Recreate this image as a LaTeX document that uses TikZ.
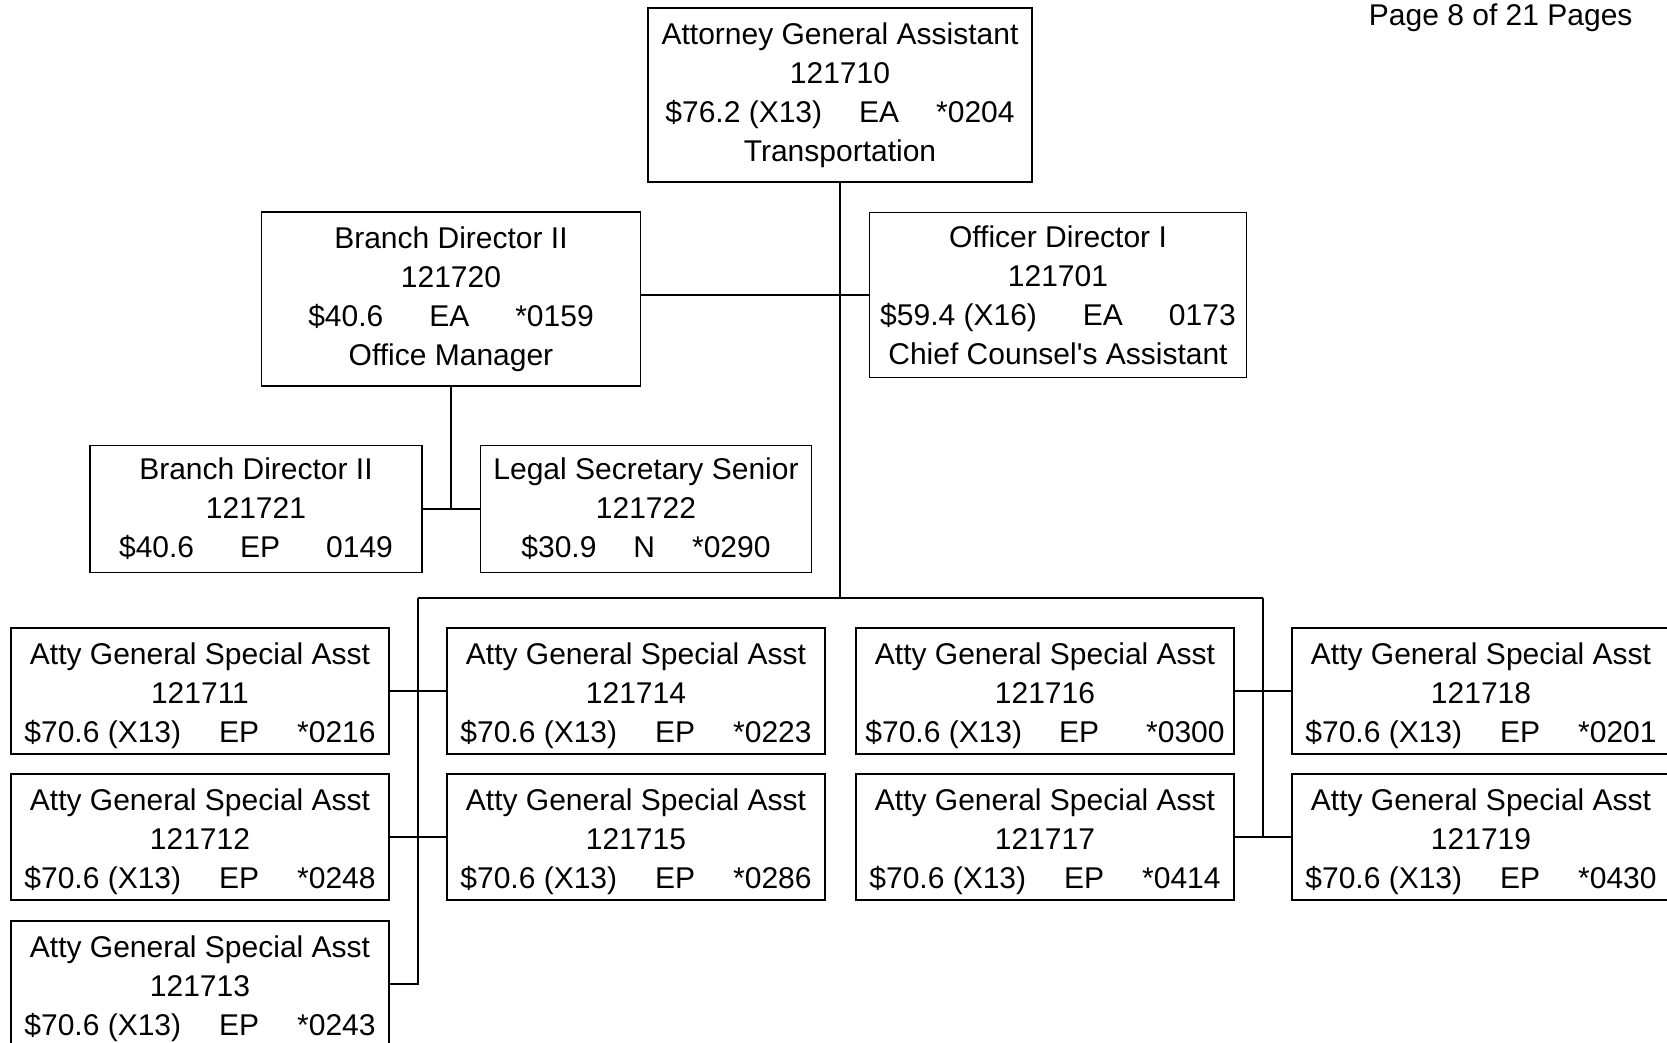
\documentclass[tikz,border=0pt]{standalone}
\usepackage{fontspec}
\setmainfont{Liberation Sans}
\usepackage{tikz}
\tikzstyle{post}=[rectangle, draw=black, line width=1.8pt, inner sep=0pt, align=center, minimum width=378pt, minimum height=126pt, font=\fontsize{30}{39}\selectfont]
\tikzstyle{link}=[draw=black, line width=1.8pt]
\newcommand{\payline}[4][38pt]{#2\hspace{#1}#3\hspace{#1}#4}
\newcommand{\asstline}{\rule{0pt}{31pt}Atty General Special Asst}

\begin{document}
\begin{tikzpicture}[x=1pt,y=-1pt]
\useasboundingbox (0,0) rectangle (1667,1042);
%Page number
\node[anchor=base east, font=\fontsize{30}{36}\selectfont] (pg) at (1636,25){Page 8 of 21 Pages};

%Row One
\node[post, minimum width=384pt, minimum height=174pt] (ag) at (840,95){Attorney General Assistant\\121710\\\payline[37pt]{\$76.2 (X13)}{EA}{*0204}\\Transportation};
%Row Two
\node[post, minimum width=379pt, minimum height=174pt] (bd) at (451,299){Branch Director II\\121720\\\payline[46pt]{\$40.6}{EA}{*0159}\\Office Manager};
\node[post, minimum width=377pt, minimum height=165pt] (od) at (1058,295){Officer Director I\\121701\\\payline[46pt]{\$59.4 (X16)}{EA}{0173}\\Chief Counsel\textquotesingle s Assistant};
%Row Three
\node[post, minimum width=332pt, minimum height=127pt] (bd2) at (256,509){Branch Director II\\121721\\\payline[46pt]{\$40.6}{EP}{0149}};
\node[post, minimum width=331pt, minimum height=127pt] (ls) at (646,509){Legal Secretary Senior\\121722\\\payline[37pt]{\$30.9}{N}{*0290}};
%Assistants
\node[post] (a11) at (200,691){\asstline\\121711\\\payline{\$70.6 (X13)}{EP}{*0216}};
\node[post] (a12) at (200,837){\asstline\\121712\\\payline{\$70.6 (X13)}{EP}{*0248}};
\node[post] (a13) at (200,984){\asstline\\121713\\\payline{\$70.6 (X13)}{EP}{*0243}};
\node[post] (a14) at (636,691){\asstline\\121714\\\payline{\$70.6 (X13)}{EP}{*0223}};
\node[post] (a15) at (636,837){\asstline\\121715\\\payline{\$70.6 (X13)}{EP}{*0286}};
\node[post] (a16) at (1045,691){\asstline\\121716\\\$70.6 (X13)\hspace{37pt}EP\hspace{47pt}*0300};
\node[post] (a17) at (1045,837){\asstline\\121717\\\payline{\$70.6 (X13)}{EP}{*0414}};
\node[post] (a18) at (1481,691){\asstline\\121718\\\payline{\$70.6 (X13)}{EP}{*0201}};
\node[post] (a19) at (1481,837){\asstline\\121719\\\payline{\$70.6 (X13)}{EP}{*0430}};

%Lines
\coordinate (busL) at (418,598);
\coordinate (busR) at (1263,598);
\draw[link] (ag.south) -- (ag.south |- busL);
\draw[link] (bd.east |- od.west) -- (od.west);
\draw[link] (bd.south) -- (bd.south |- bd2.east);
\draw[link] (bd2.east) -- (ls.west);
\draw[link] (busL) -- (busR);
\draw[link] (busL) -- (busL |- a13.east) -- (a13.east);
\draw[link] (busR) -- (busR |- a17.east);
\draw[link] (a11.east) -- (a14.west);
\draw[link] (a12.east) -- (a15.west);
\draw[link] (a16.east) -- (a18.west);
\draw[link] (a17.east) -- (a19.west);
\end{tikzpicture}
\end{document}
